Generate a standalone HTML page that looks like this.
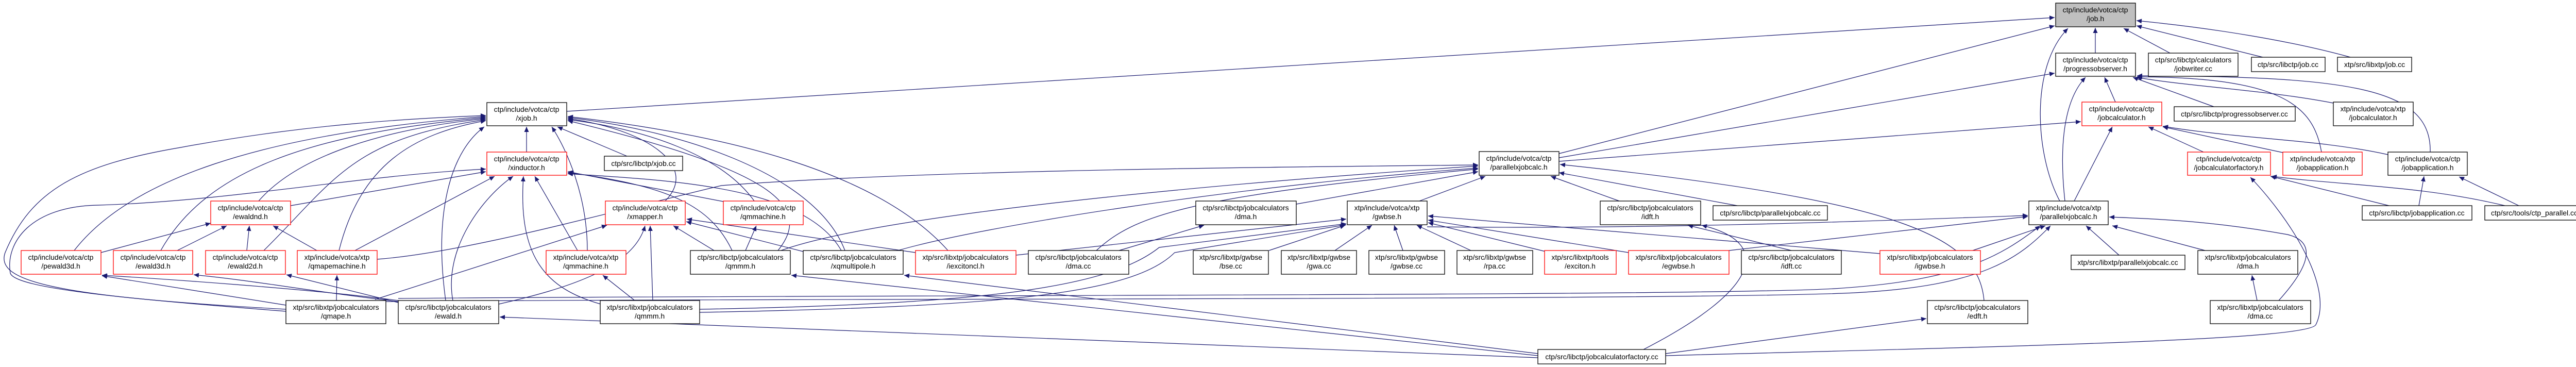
<!DOCTYPE html>
<html><head><meta charset="utf-8"><style>
html,body{margin:0;padding:0;background:#fff;}
svg{display:block;}
text{font-family:"Liberation Sans",sans-serif;font-size:14px;fill:#000;text-anchor:middle;}
.e{fill:none;stroke:#191970;stroke-width:1.2;marker-end:url(#a);}
.b{fill:#fff;stroke:#000;stroke-width:1.3;}
.r{fill:#fff;stroke:#ff0000;stroke-width:1.3;}
.g{fill:#bfbfbf;stroke:#000;stroke-width:1.3;}
</style></head><body>
<svg width="5023" height="712" viewBox="0 0 5023 712" xmlns="http://www.w3.org/2000/svg">
<defs><marker id="a" markerUnits="userSpaceOnUse" markerWidth="11" markerHeight="9" refX="10" refY="4.5" orient="auto"><path d="M0,0 L10,4.5 L0,9 z" fill="#191970"/></marker></defs>
<g>
<path class="e" d="M1100,216 L3988,34"/>
<path class="e" d="M4067,103 L4067,54"/>
<path class="e" d="M4212,103 L4122,55"/>
<path class="e" d="M4392,111 L4147,50"/>
<path class="e" d="M4562,111 C4450,80 4300,55 4147,40"/>
<path class="e" d="M3026,298 L3988,50"/>
<path class="e" d="M3998,390 C3950,300 3940,130 4014,55"/>
<path class="e" d="M3026,306 L3988,142"/>
<path class="e" d="M4008,390 C3995,270 4010,190 4048,150"/>
<path class="e" d="M4106,198 L4085,150"/>
<path class="e" d="M4297,207 L4140,150"/>
<path class="e" d="M4529,200 C4400,175 4250,168 4147,150"/>
<path class="e" d="M4506,295 C4490,200 4420,150 4148,149"/>
<path class="e" d="M4717,295 C4720,170 4560,148 4148,147"/>
<path class="e" d="M3026,313 L4039,236"/>
<path class="e" d="M4026,390 L4100,246"/>
<path class="e" d="M4277,295 L4170,246"/>
<path class="e" d="M4431,296 L4198,246"/>
<path class="e" d="M4635,300 C4500,270 4350,270 4198,245"/>
<path class="e" d="M4637,399 L4407,342"/>
<path class="e" d="M4862,399 C4700,360 4550,360 4409,342"/>
<path class="e" d="M4695,399 L4705,342"/>
<path class="e" d="M4889,399 L4773,343"/>
<path class="e" d="M3233,690 C3900,672 4480,660 4495,630 C4530,560 4450,430 4368,344"/>
<path class="e" d="M4113,495 L4049,438"/>
<path class="e" d="M4280,486 L4100,438"/>
<path class="e" d="M4423,583 C4480,520 4500,470 4440,455 C4300,430 4200,425 4094,421"/>
<path class="e" d="M4381,583 L4371,534"/>
<path class="e" d="M3829,486 L3970,438"/>
<path class="e" d="M3356,486 L3936,420"/>
<path class="e" d="M3143,390 L3010,342"/>
<path class="e" d="M3372,399 L3026,335"/>
<path class="e" d="M3851,583 C3840,460 3700,390 3028,319"/>
<path class="e" d="M2755,390 L2883,342"/>
<path class="e" d="M2516,396 L2869,333"/>
<path class="e" d="M732,503 C900,490 1150,420 1400,360 C1800,330 2400,325 2869,320"/>
<path class="e" d="M1516,486 C1700,420 2300,360 2869,322"/>
<path class="e" d="M1743,486 C1900,440 2400,360 2869,326"/>
<path class="e" d="M2128,486 C2200,420 2300,380 2869,328"/>
<path class="e" d="M2172,486 L2337,437"/>
<path class="e" d="M2463,486 L2611,437"/>
<path class="e" d="M2591,486 L2663,437"/>
<path class="e" d="M2723,486 L2706,437"/>
<path class="e" d="M2855,486 L2750,437"/>
<path class="e" d="M3000,488 L2772,432"/>
<path class="e" d="M3161,490 L2772,427"/>
<path class="e" d="M3649,492 L2772,419"/>
<path class="e" d="M1972,495 L2613,425"/>
<path class="e" d="M1358,600 C1900,590 2150,560 2250,480 L2613,434"/>
<path class="e" d="M1358,606 C1950,595 2200,570 2280,490 L2613,436"/>
<path class="e" d="M2770,440 C3200,445 3600,430 3936,418"/>
<path class="e" d="M1022,295 L1022,246"/>
<path class="e" d="M564,399 L943,333"/>
<path class="e" d="M689,486 L960,342"/>
<path class="e" d="M879,583 C860,480 940,380 996,342"/>
<path class="e" d="M1166,590 C1060,560 1005,500 1016,342"/>
<path class="e" d="M1121,486 L1038,342"/>
<path class="e" d="M1404,391 L1102,333"/>
<path class="e" d="M1421,486 C1380,400 1300,360 1102,335"/>
<path class="e" d="M1633,486 C1560,360 1300,350 1102,337"/>
<path class="e" d="M555,600 C100,575 -10,545 10,490 C60,370 150,320 351,286 C600,240 800,230 943,224"/>
<path class="e" d="M555,604 C250,580 30,560 20,530 C10,470 60,400 191,398 C450,390 700,340 943,328"/>
<path class="e" d="M144,486 C250,350 500,260 943,226"/>
<path class="e" d="M312,486 C400,330 600,260 943,228"/>
<path class="e" d="M502,390 C580,300 750,250 943,230"/>
<path class="e" d="M512,486 C650,350 680,270 943,232"/>
<path class="e" d="M658,486 C700,320 800,260 943,234"/>
<path class="e" d="M865,583 C840,400 880,290 940,246"/>
<path class="e" d="M1291,390 C1360,320 1250,250 1102,230"/>
<path class="e" d="M1464,390 C1400,300 1250,250 1102,232"/>
<path class="e" d="M1510,486 C1580,400 1500,330 1102,234"/>
<path class="e" d="M1640,486 C1580,330 1300,250 1102,228"/>
<path class="e" d="M1840,486 C1700,330 1400,260 1102,226"/>
<path class="e" d="M1217,303 L1082,246"/>
<path class="e" d="M1140,486 C1140,380 1100,290 1071,246"/>
<path class="e" d="M196,490 L409,433"/>
<path class="e" d="M344,486 L440,438"/>
<path class="e" d="M479,486 L484,438"/>
<path class="e" d="M615,486 L530,438"/>
<path class="e" d="M773,583 C600,560 300,540 198,534"/>
<path class="e" d="M773,585 C600,565 500,545 376,533"/>
<path class="e" d="M773,587 L556,533"/>
<path class="e" d="M555,592 L198,535"/>
<path class="e" d="M653,583 L654,534"/>
<path class="e" d="M728,581 L1178,437"/>
<path class="e" d="M1267,583 L1262,438"/>
<path class="e" d="M1386,486 L1307,438"/>
<path class="e" d="M1559,488 L1332,430"/>
<path class="e" d="M1777,490 L1333,425"/>
<path class="e" d="M968,590 C1100,560 1230,520 1252,438"/>
<path class="e" d="M1447,486 L1468,438"/>
<path class="e" d="M1232,583 L1170,534"/>
<path class="e" d="M2985,686 L1755,534"/>
<path class="e" d="M2985,690 L1536,534"/>
<path class="e" d="M2985,694 L970,615"/>
<path class="e" d="M3233,686 L3739,618"/>
<path class="e" d="M3190,678 C3420,560 3440,470 3303,437"/>
<path class="e" d="M773,579 C1500,572 3300,575 3560,560 C3800,545 3880,500 3960,438"/>
<path class="e" d="M749,585 C1500,578 3300,583 3600,568 C3850,555 3920,500 3980,438"/>
<path class="e" d="M3477,486 L3276,437"/>
</g>
<g>
<rect class="g" x="3990" y="6" width="155" height="46"/><text x="4067" y="24">ctp/include/votca/ctp</text><text x="4067" y="41">/job.h</text>
<rect class="b" x="3990" y="103" width="155" height="45"/><text x="4067" y="121">ctp/include/votca/ctp</text><text x="4067" y="138">/progressobserver.h</text>
<rect class="b" x="4170" y="103" width="174" height="45"/><text x="4257" y="121">ctp/src/libctp/calculators</text><text x="4257" y="138">/jobwriter.cc</text>
<rect class="b" x="4370" y="111" width="143" height="28"/><text x="4441" y="130">ctp/src/libctp/job.cc</text>
<rect class="b" x="4537" y="111" width="144" height="28"/><text x="4609" y="130">xtp/src/libxtp/job.cc</text>
<rect class="r" x="4041" y="198" width="155" height="46"/><text x="4118" y="216">ctp/include/votca/ctp</text><text x="4118" y="233">/jobcalculator.h</text>
<rect class="b" x="4220" y="207" width="235" height="28"/><text x="4337" y="226">ctp/src/libctp/progressobserver.cc</text>
<rect class="b" x="4529" y="198" width="155" height="46"/><text x="4606" y="216">xtp/include/votca/xtp</text><text x="4606" y="233">/jobcalculator.h</text>
<rect class="r" x="4246" y="295" width="161" height="45"/><text x="4326" y="313">ctp/include/votca/ctp</text><text x="4326" y="330">/jobcalculatorfactory.h</text>
<rect class="r" x="4431" y="295" width="154" height="45"/><text x="4508" y="313">xtp/include/votca/xtp</text><text x="4508" y="330">/jobapplication.h</text>
<rect class="b" x="4635" y="295" width="154" height="45"/><text x="4712" y="313">ctp/include/votca/ctp</text><text x="4712" y="330">/jobapplication.h</text>
<rect class="b" x="4585" y="399" width="213" height="28"/><text x="4691" y="418">ctp/src/libctp/jobapplication.cc</text>
<rect class="b" x="4823" y="399" width="193" height="28"/><text x="4919" y="418">ctp/src/tools/ctp_parallel.cc</text>
<rect class="b" x="4020" y="495" width="221" height="28"/><text x="4130" y="514">xtp/src/libxtp/parallelxjobcalc.cc</text>
<rect class="b" x="4266" y="486" width="194" height="46"/><text x="4363" y="504">xtp/src/libxtp/jobcalculators</text><text x="4363" y="521">/dma.h</text>
<rect class="b" x="4290" y="583" width="195" height="45"/><text x="4387" y="601">xtp/src/libxtp/jobcalculators</text><text x="4387" y="618">/dma.cc</text>
<rect class="b" x="3938" y="390" width="154" height="46"/><text x="4015" y="408">xtp/include/votca/xtp</text><text x="4015" y="425">/parallelxjobcalc.h</text>
<rect class="b" x="2871" y="294" width="155" height="46"/><text x="2948" y="312">ctp/include/votca/ctp</text><text x="2948" y="329">/parallelxjobcalc.h</text>
<rect class="b" x="3106" y="390" width="195" height="46"/><text x="3203" y="408">ctp/src/libctp/jobcalculators</text><text x="3203" y="425">/idft.h</text>
<rect class="b" x="3325" y="399" width="222" height="28"/><text x="3436" y="418">ctp/src/libctp/parallelxjobcalc.cc</text>
<rect class="r" x="3161" y="486" width="195" height="46"/><text x="3258" y="504">xtp/src/libxtp/jobcalculators</text><text x="3258" y="521">/egwbse.h</text>
<rect class="b" x="3380" y="486" width="194" height="46"/><text x="3477" y="504">ctp/src/libctp/jobcalculators</text><text x="3477" y="521">/idft.cc</text>
<rect class="r" x="3649" y="486" width="195" height="46"/><text x="3746" y="504">xtp/src/libxtp/jobcalculators</text><text x="3746" y="521">/igwbse.h</text>
<rect class="b" x="3741" y="583" width="195" height="45"/><text x="3838" y="601">ctp/src/libctp/jobcalculators</text><text x="3838" y="618">/edft.h</text>
<rect class="b" x="2985" y="678" width="248" height="28"/><text x="3109" y="697">ctp/src/libctp/jobcalculatorfactory.cc</text>
<rect class="r" x="2998" y="486" width="139" height="46"/><text x="3067" y="504">xtp/src/libxtp/tools</text><text x="3067" y="521">/exciton.h</text>
<rect class="b" x="2316" y="486" width="146" height="46"/><text x="2389" y="504">xtp/src/libxtp/gwbse</text><text x="2389" y="521">/bse.cc</text>
<rect class="b" x="2487" y="486" width="146" height="46"/><text x="2560" y="504">xtp/src/libxtp/gwbse</text><text x="2560" y="521">/gwa.cc</text>
<rect class="b" x="2657" y="486" width="147" height="46"/><text x="2730" y="504">xtp/src/libxtp/gwbse</text><text x="2730" y="521">/gwbse.cc</text>
<rect class="b" x="2828" y="486" width="147" height="46"/><text x="2901" y="504">xtp/src/libxtp/gwbse</text><text x="2901" y="521">/rpa.cc</text>
<rect class="b" x="2615" y="390" width="155" height="46"/><text x="2692" y="408">xtp/include/votca/xtp</text><text x="2692" y="425">/gwbse.h</text>
<rect class="b" x="2321" y="390" width="195" height="46"/><text x="2418" y="408">ctp/src/libctp/jobcalculators</text><text x="2418" y="425">/dma.h</text>
<rect class="b" x="1996" y="486" width="195" height="46"/><text x="2093" y="504">ctp/src/libctp/jobcalculators</text><text x="2093" y="521">/dma.cc</text>
<rect class="r" x="1777" y="486" width="195" height="46"/><text x="1874" y="504">xtp/src/libxtp/jobcalculators</text><text x="1874" y="521">/iexcitoncl.h</text>
<rect class="b" x="1559" y="486" width="194" height="46"/><text x="1656" y="504">ctp/src/libctp/jobcalculators</text><text x="1656" y="521">/xqmultipole.h</text>
<rect class="b" x="1340" y="486" width="194" height="46"/><text x="1437" y="504">ctp/src/libctp/jobcalculators</text><text x="1437" y="521">/qmmm.h</text>
<rect class="r" x="1060" y="486" width="155" height="46"/><text x="1137" y="504">xtp/include/votca/xtp</text><text x="1137" y="521">/qmmachine.h</text>
<rect class="b" x="1165" y="583" width="193" height="45"/><text x="1261" y="601">xtp/src/libxtp/jobcalculators</text><text x="1261" y="618">/qmmm.h</text>
<rect class="r" x="1175" y="390" width="155" height="46"/><text x="1252" y="408">ctp/include/votca/ctp</text><text x="1252" y="425">/xmapper.h</text>
<rect class="r" x="1404" y="390" width="155" height="46"/><text x="1481" y="408">ctp/include/votca/ctp</text><text x="1481" y="425">/qmmachine.h</text>
<rect class="b" x="1173" y="303" width="152" height="28"/><text x="1249" y="322">ctp/src/libctp/xjob.cc</text>
<rect class="b" x="945" y="199" width="155" height="45"/><text x="1022" y="217">ctp/include/votca/ctp</text><text x="1022" y="234">/xjob.h</text>
<rect class="r" x="945" y="295" width="155" height="45"/><text x="1022" y="313">ctp/include/votca/ctp</text><text x="1022" y="330">/xinductor.h</text>
<rect class="r" x="409" y="390" width="155" height="46"/><text x="486" y="408">ctp/include/votca/ctp</text><text x="486" y="425">/ewaldnd.h</text>
<rect class="r" x="41" y="486" width="155" height="46"/><text x="118" y="504">ctp/include/votca/ctp</text><text x="118" y="521">/pewald3d.h</text>
<rect class="r" x="220" y="486" width="154" height="46"/><text x="297" y="504">ctp/include/votca/ctp</text><text x="297" y="521">/ewald3d.h</text>
<rect class="r" x="399" y="486" width="155" height="46"/><text x="476" y="504">ctp/include/votca/ctp</text><text x="476" y="521">/ewald2d.h</text>
<rect class="r" x="577" y="486" width="155" height="46"/><text x="654" y="504">xtp/include/votca/xtp</text><text x="654" y="521">/qmapemachine.h</text>
<rect class="b" x="555" y="583" width="194" height="45"/><text x="652" y="601">xtp/src/libxtp/jobcalculators</text><text x="652" y="618">/qmape.h</text>
<rect class="b" x="773" y="583" width="195" height="45"/><text x="870" y="601">ctp/src/libctp/jobcalculators</text><text x="870" y="618">/ewald.h</text>
</g>
</svg>
</body></html>
